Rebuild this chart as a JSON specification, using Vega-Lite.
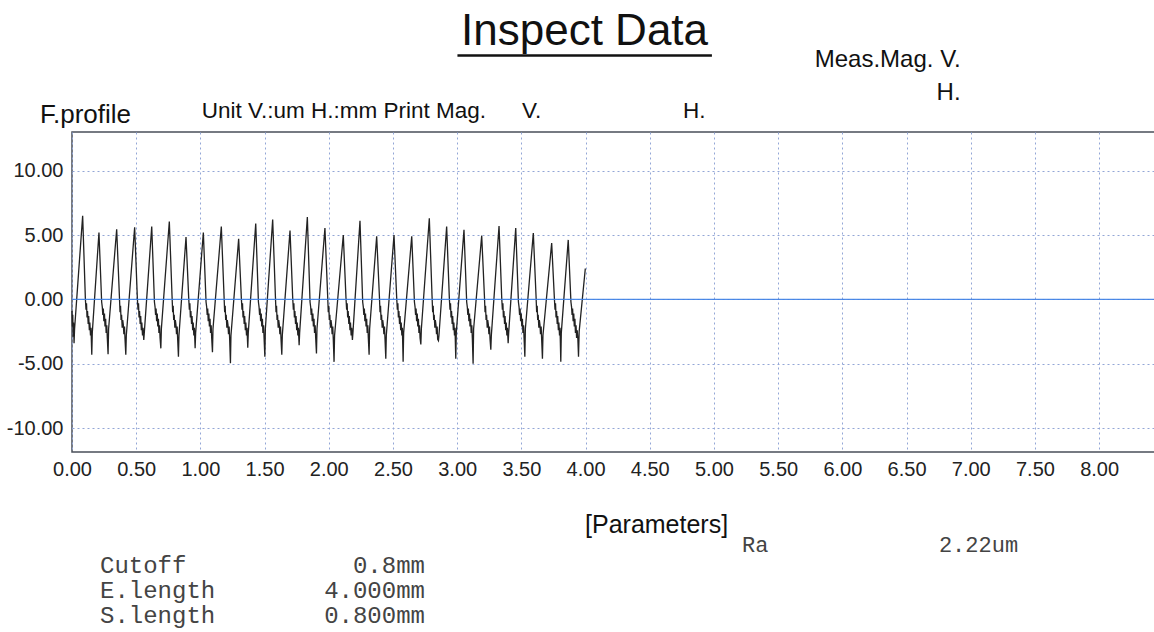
{
  "$schema": "https://vega.github.io/schema/vega-lite/v6.json",
  "width": 1083,
  "height": 320,
  "autosize": "none",
  "padding": {"left": 72, "top": 132, "right": 0, "bottom": 180},
  "background": "white",
  "config": {"view": {"stroke": "#4a4f5a", "strokeWidth": 1.5}},
  "datasets": {
    "one": [{}],
    "profile": [
      {"x":0.000,"y":-0.9},{"x":0.003,"y":-2.1},{"x":0.006,"y":-1.2},{"x":0.009,"y":-2.9},{"x":0.012,"y":-1.8},{"x":0.016,"y":-3.4},{"x":0.020,"y":-2.3},
      {"x":0.083,"y":6.5},{"x":0.104,"y":0.1},{"x":0.109,"y":-0.8},{"x":0.113,"y":-0.3},{"x":0.117,"y":-1.4},{"x":0.121,"y":-0.9},{"x":0.126,"y":-1.9},{"x":0.130,"y":-1.3},{"x":0.135,"y":-2.4},{"x":0.139,"y":-1.8},{"x":0.144,"y":-2.8},{"x":0.148,"y":-2.2},{"x":0.154,"y":-4.3},{"x":0.158,"y":-2.6},
      {"x":0.210,"y":5.2},{"x":0.231,"y":-0.2},{"x":0.236,"y":-0.6},{"x":0.240,"y":-1.2},{"x":0.244,"y":-0.7},{"x":0.248,"y":-1.7},{"x":0.253,"y":-1.1},{"x":0.257,"y":-2.1},{"x":0.262,"y":-1.5},{"x":0.266,"y":-2.6},{"x":0.271,"y":-2.0},{"x":0.275,"y":-3.0},{"x":0.281,"y":-4.25},{"x":0.285,"y":-2.3},
      {"x":0.348,"y":5.45},{"x":0.369,"y":0.3},{"x":0.374,"y":-1.0},{"x":0.378,"y":-0.5},{"x":0.382,"y":-1.6},{"x":0.386,"y":-1.2},{"x":0.391,"y":-2.2},{"x":0.395,"y":-1.6},{"x":0.400,"y":-2.0},{"x":0.404,"y":-2.7},{"x":0.409,"y":-2.1},{"x":0.413,"y":-3.1},{"x":0.419,"y":-4.3},{"x":0.423,"y":-2.8},
      {"x":0.488,"y":5.6},{"x":0.509,"y":0.1},{"x":0.514,"y":-0.8},{"x":0.518,"y":-0.3},{"x":0.522,"y":-1.4},{"x":0.526,"y":-0.9},{"x":0.531,"y":-1.9},{"x":0.535,"y":-1.3},{"x":0.540,"y":-2.4},{"x":0.544,"y":-1.8},{"x":0.549,"y":-2.8},{"x":0.553,"y":-2.2},{"x":0.559,"y":-3.15},{"x":0.563,"y":-2.6},
      {"x":0.621,"y":5.65},{"x":0.642,"y":-0.2},{"x":0.647,"y":-0.6},{"x":0.651,"y":-1.2},{"x":0.655,"y":-0.7},{"x":0.659,"y":-1.7},{"x":0.664,"y":-1.1},{"x":0.668,"y":-2.1},{"x":0.673,"y":-1.5},{"x":0.677,"y":-2.6},{"x":0.682,"y":-2.0},{"x":0.686,"y":-3.0},{"x":0.692,"y":-3.8},{"x":0.696,"y":-2.3},
      {"x":0.758,"y":6.05},{"x":0.779,"y":0.3},{"x":0.784,"y":-1.0},{"x":0.788,"y":-0.5},{"x":0.792,"y":-1.6},{"x":0.796,"y":-1.2},{"x":0.801,"y":-2.2},{"x":0.805,"y":-1.6},{"x":0.810,"y":-2.0},{"x":0.814,"y":-2.7},{"x":0.819,"y":-2.1},{"x":0.823,"y":-3.1},{"x":0.829,"y":-4.45},{"x":0.833,"y":-2.8},
      {"x":0.888,"y":4.85},{"x":0.909,"y":0.1},{"x":0.914,"y":-0.8},{"x":0.918,"y":-0.3},{"x":0.922,"y":-1.4},{"x":0.926,"y":-0.9},{"x":0.931,"y":-1.9},{"x":0.935,"y":-1.3},{"x":0.940,"y":-2.4},{"x":0.944,"y":-1.8},{"x":0.949,"y":-2.8},{"x":0.953,"y":-2.2},{"x":0.959,"y":-3.8},{"x":0.963,"y":-2.6},
      {"x":1.023,"y":5.2},{"x":1.044,"y":-0.2},{"x":1.049,"y":-0.6},{"x":1.053,"y":-1.2},{"x":1.057,"y":-0.7},{"x":1.061,"y":-1.7},{"x":1.066,"y":-1.1},{"x":1.070,"y":-2.1},{"x":1.075,"y":-1.5},{"x":1.079,"y":-2.6},{"x":1.084,"y":-2.0},{"x":1.088,"y":-3.0},{"x":1.094,"y":-4.1},{"x":1.098,"y":-2.3},
      {"x":1.163,"y":5.65},{"x":1.184,"y":0.3},{"x":1.189,"y":-1.0},{"x":1.193,"y":-0.5},{"x":1.197,"y":-1.6},{"x":1.201,"y":-1.2},{"x":1.206,"y":-2.2},{"x":1.210,"y":-1.6},{"x":1.215,"y":-2.0},{"x":1.219,"y":-2.7},{"x":1.224,"y":-2.1},{"x":1.228,"y":-3.1},{"x":1.234,"y":-4.95},{"x":1.238,"y":-2.8},
      {"x":1.298,"y":4.7},{"x":1.319,"y":0.1},{"x":1.324,"y":-0.8},{"x":1.328,"y":-0.3},{"x":1.332,"y":-1.4},{"x":1.336,"y":-0.9},{"x":1.341,"y":-1.9},{"x":1.345,"y":-1.3},{"x":1.350,"y":-2.4},{"x":1.354,"y":-1.8},{"x":1.359,"y":-2.8},{"x":1.363,"y":-2.2},{"x":1.369,"y":-3.75},{"x":1.373,"y":-2.6},
      {"x":1.431,"y":5.9},{"x":1.452,"y":-0.2},{"x":1.457,"y":-0.6},{"x":1.461,"y":-1.2},{"x":1.465,"y":-0.7},{"x":1.469,"y":-1.7},{"x":1.474,"y":-1.1},{"x":1.478,"y":-2.1},{"x":1.483,"y":-1.5},{"x":1.487,"y":-2.6},{"x":1.492,"y":-2.0},{"x":1.496,"y":-3.0},{"x":1.502,"y":-4.45},{"x":1.506,"y":-2.3},
      {"x":1.563,"y":6.2},{"x":1.584,"y":0.3},{"x":1.589,"y":-1.0},{"x":1.593,"y":-0.5},{"x":1.597,"y":-1.6},{"x":1.601,"y":-1.2},{"x":1.606,"y":-2.2},{"x":1.610,"y":-1.6},{"x":1.615,"y":-2.0},{"x":1.619,"y":-2.7},{"x":1.624,"y":-2.1},{"x":1.628,"y":-3.1},{"x":1.634,"y":-4.3},{"x":1.638,"y":-2.8},
      {"x":1.698,"y":5.35},{"x":1.719,"y":0.1},{"x":1.724,"y":-0.8},{"x":1.728,"y":-0.3},{"x":1.732,"y":-1.4},{"x":1.736,"y":-0.9},{"x":1.741,"y":-1.9},{"x":1.745,"y":-1.3},{"x":1.750,"y":-2.4},{"x":1.754,"y":-1.8},{"x":1.759,"y":-2.8},{"x":1.763,"y":-2.2},{"x":1.769,"y":-3.55},{"x":1.773,"y":-2.6},
      {"x":1.833,"y":6.4},{"x":1.854,"y":-0.2},{"x":1.859,"y":-0.6},{"x":1.863,"y":-1.2},{"x":1.867,"y":-0.7},{"x":1.871,"y":-1.7},{"x":1.876,"y":-1.1},{"x":1.880,"y":-2.1},{"x":1.885,"y":-1.5},{"x":1.889,"y":-2.6},{"x":1.894,"y":-2.0},{"x":1.898,"y":-3.0},{"x":1.904,"y":-4.2},{"x":1.908,"y":-2.3},
      {"x":1.970,"y":5.55},{"x":1.991,"y":0.3},{"x":1.996,"y":-1.0},{"x":2.000,"y":-0.5},{"x":2.004,"y":-1.6},{"x":2.008,"y":-1.2},{"x":2.013,"y":-2.2},{"x":2.017,"y":-1.6},{"x":2.022,"y":-2.0},{"x":2.026,"y":-2.7},{"x":2.031,"y":-2.1},{"x":2.035,"y":-3.1},{"x":2.041,"y":-4.85},{"x":2.045,"y":-2.8},
      {"x":2.113,"y":5.0},{"x":2.134,"y":0.1},{"x":2.139,"y":-0.8},{"x":2.143,"y":-0.3},{"x":2.147,"y":-1.4},{"x":2.151,"y":-0.9},{"x":2.156,"y":-1.9},{"x":2.160,"y":-1.3},{"x":2.165,"y":-2.4},{"x":2.169,"y":-1.8},{"x":2.174,"y":-2.8},{"x":2.178,"y":-2.2},{"x":2.184,"y":-3.15},{"x":2.188,"y":-2.6},
      {"x":2.243,"y":6.1},{"x":2.264,"y":-0.2},{"x":2.269,"y":-0.6},{"x":2.273,"y":-1.2},{"x":2.277,"y":-0.7},{"x":2.281,"y":-1.7},{"x":2.286,"y":-1.1},{"x":2.290,"y":-2.1},{"x":2.295,"y":-1.5},{"x":2.299,"y":-2.6},{"x":2.304,"y":-2.0},{"x":2.308,"y":-3.0},{"x":2.314,"y":-4.3},{"x":2.318,"y":-2.3},
      {"x":2.373,"y":4.9},{"x":2.394,"y":0.3},{"x":2.399,"y":-1.0},{"x":2.403,"y":-0.5},{"x":2.407,"y":-1.6},{"x":2.411,"y":-1.2},{"x":2.416,"y":-2.2},{"x":2.420,"y":-1.6},{"x":2.425,"y":-2.0},{"x":2.429,"y":-2.7},{"x":2.434,"y":-2.1},{"x":2.438,"y":-3.1},{"x":2.444,"y":-4.6},{"x":2.448,"y":-2.8},
      {"x":2.508,"y":5.0},{"x":2.529,"y":0.1},{"x":2.534,"y":-0.8},{"x":2.538,"y":-0.3},{"x":2.542,"y":-1.4},{"x":2.546,"y":-0.9},{"x":2.551,"y":-1.9},{"x":2.555,"y":-1.3},{"x":2.560,"y":-2.4},{"x":2.564,"y":-1.8},{"x":2.569,"y":-2.8},{"x":2.573,"y":-2.2},{"x":2.579,"y":-4.85},{"x":2.583,"y":-2.6},
      {"x":2.646,"y":4.9},{"x":2.667,"y":-0.2},{"x":2.672,"y":-0.6},{"x":2.676,"y":-1.2},{"x":2.680,"y":-0.7},{"x":2.684,"y":-1.7},{"x":2.689,"y":-1.1},{"x":2.693,"y":-2.1},{"x":2.698,"y":-1.5},{"x":2.702,"y":-2.6},{"x":2.707,"y":-2.0},{"x":2.711,"y":-3.0},{"x":2.717,"y":-3.5},{"x":2.721,"y":-2.3},
      {"x":2.783,"y":6.3},{"x":2.804,"y":0.3},{"x":2.809,"y":-1.0},{"x":2.813,"y":-0.5},{"x":2.817,"y":-1.6},{"x":2.821,"y":-1.2},{"x":2.826,"y":-2.2},{"x":2.830,"y":-1.6},{"x":2.835,"y":-2.0},{"x":2.839,"y":-2.7},{"x":2.844,"y":-2.1},{"x":2.848,"y":-3.1},{"x":2.854,"y":-3.2},{"x":2.858,"y":-2.8},
      {"x":2.918,"y":5.65},{"x":2.939,"y":0.1},{"x":2.944,"y":-0.8},{"x":2.948,"y":-0.3},{"x":2.952,"y":-1.4},{"x":2.956,"y":-0.9},{"x":2.961,"y":-1.9},{"x":2.965,"y":-1.3},{"x":2.970,"y":-2.4},{"x":2.974,"y":-1.8},{"x":2.979,"y":-2.8},{"x":2.983,"y":-2.2},{"x":2.989,"y":-4.6},{"x":2.993,"y":-2.6},
      {"x":3.053,"y":5.4},{"x":3.074,"y":-0.2},{"x":3.079,"y":-0.6},{"x":3.083,"y":-1.2},{"x":3.087,"y":-0.7},{"x":3.091,"y":-1.7},{"x":3.096,"y":-1.1},{"x":3.100,"y":-2.1},{"x":3.105,"y":-1.5},{"x":3.109,"y":-2.6},{"x":3.114,"y":-2.0},{"x":3.118,"y":-3.0},{"x":3.124,"y":-5.0},{"x":3.128,"y":-2.3},
      {"x":3.191,"y":4.95},{"x":3.212,"y":0.3},{"x":3.217,"y":-1.0},{"x":3.221,"y":-0.5},{"x":3.225,"y":-1.6},{"x":3.229,"y":-1.2},{"x":3.234,"y":-2.2},{"x":3.238,"y":-1.6},{"x":3.243,"y":-2.0},{"x":3.247,"y":-2.7},{"x":3.252,"y":-2.1},{"x":3.256,"y":-3.1},{"x":3.262,"y":-3.9},{"x":3.266,"y":-2.8},
      {"x":3.326,"y":5.7},{"x":3.347,"y":0.1},{"x":3.352,"y":-0.8},{"x":3.356,"y":-0.3},{"x":3.360,"y":-1.4},{"x":3.364,"y":-0.9},{"x":3.369,"y":-1.9},{"x":3.373,"y":-1.3},{"x":3.378,"y":-2.4},{"x":3.382,"y":-1.8},{"x":3.387,"y":-2.8},{"x":3.391,"y":-2.2},{"x":3.397,"y":-3.4},{"x":3.401,"y":-2.6},
      {"x":3.456,"y":5.55},{"x":3.477,"y":-0.2},{"x":3.482,"y":-0.6},{"x":3.486,"y":-1.2},{"x":3.490,"y":-0.7},{"x":3.494,"y":-1.7},{"x":3.499,"y":-1.1},{"x":3.503,"y":-2.1},{"x":3.508,"y":-1.5},{"x":3.512,"y":-2.6},{"x":3.517,"y":-2.0},{"x":3.521,"y":-3.0},{"x":3.527,"y":-4.45},{"x":3.531,"y":-2.3},
      {"x":3.593,"y":5.15},{"x":3.614,"y":0.3},{"x":3.619,"y":-1.0},{"x":3.623,"y":-0.5},{"x":3.627,"y":-1.6},{"x":3.631,"y":-1.2},{"x":3.636,"y":-2.2},{"x":3.640,"y":-1.6},{"x":3.645,"y":-2.0},{"x":3.649,"y":-2.7},{"x":3.654,"y":-2.1},{"x":3.658,"y":-3.1},{"x":3.664,"y":-4.6},{"x":3.668,"y":-2.8},
      {"x":3.736,"y":4.37},{"x":3.757,"y":0.1},{"x":3.762,"y":-0.8},{"x":3.766,"y":-0.3},{"x":3.770,"y":-1.4},{"x":3.774,"y":-0.9},{"x":3.779,"y":-1.9},{"x":3.783,"y":-1.3},{"x":3.788,"y":-2.4},{"x":3.792,"y":-1.8},{"x":3.797,"y":-2.8},{"x":3.801,"y":-2.2},{"x":3.807,"y":-4.85},{"x":3.811,"y":-2.6},
      {"x":3.865,"y":4.62},{"x":3.886,"y":-0.2},{"x":3.891,"y":-0.6},{"x":3.895,"y":-1.2},{"x":3.899,"y":-0.7},{"x":3.903,"y":-1.7},{"x":3.908,"y":-1.1},{"x":3.912,"y":-2.1},{"x":3.917,"y":-1.5},{"x":3.921,"y":-2.6},{"x":3.926,"y":-2.0},{"x":3.930,"y":-3.0},{"x":3.935,"y":-2.4},{"x":3.940,"y":-3.1},{"x":3.945,"y":-4.45},{"x":3.950,"y":-2.5},
      {"x":3.998,"y":2.4}
    ]
  },
  "layer": [
    {
      "data": {"name": "profile"},
      "mark": {"type": "line", "color": "#222222", "strokeWidth": 1.3},
      "encoding": {
        "x": {
          "field": "x", "type": "quantitative",
          "scale": {"domain": [0, 8.435], "nice": false, "zero": false},
          "axis": {
            "values": [0,0.5,1,1.5,2,2.5,3,3.5,4,4.5,5,5.5,6,6.5,7,7.5,8],
            "labelExpr": "replace(format(datum.value, '.2f'), '\u2212', '-')",
            "title": null, "grid": true, "gridDash": [2,3], "gridColor": "#93a6d6", "gridWidth": 1,
            "domain": false, "ticks": false, "labelFontSize": 20, "labelFont": "Liberation Sans", "labelColor": "#222222",
            "labelPadding": 7, "labelFlush": false, "labelOverlap": false
          }
        },
        "y": {
          "field": "y", "type": "quantitative",
          "scale": {"domain": [-11.85, 13.0], "nice": false, "zero": false},
          "axis": {
            "values": [-10,-5,0,5,10],
            "labelExpr": "replace(format(datum.value, '.2f'), '\u2212', '-')",
            "title": null, "grid": true, "gridDash": [2,3], "gridColor": "#93a6d6", "gridWidth": 1,
            "domain": false, "ticks": false, "labelFontSize": 20, "labelFont": "Liberation Sans", "labelColor": "#222222",
            "labelPadding": 9, "labelOverlap": false, "labelFlush": false
          }
        }
      }
    },
    {
      "data": {"name": "one"},
      "mark": {"type": "rule", "color": "#3d7fe6", "strokeWidth": 1.4, "opacity": 0.9},
      "encoding": {"y": {"datum": 0, "type": "quantitative"}}
    },
    {
      "data": {"name": "one"},
      "mark": {"type": "text", "text": "Inspect Data", "font": "Liberation Sans", "fontSize": 44, "align": "center", "baseline": "alphabetic", "color": "#111111"},
      "encoding": {"x": {"datum": 3.992, "type": "quantitative"}, "y": {"datum": 19.74, "type": "quantitative"}}
    },
    {
      "data": {"name": "one"},
      "mark": {"type": "rule", "color": "#111111", "strokeWidth": 2.5},
      "encoding": {"x": {"datum": 3.002, "type": "quantitative"}, "x2": {"datum": 4.984}, "y": {"datum": 18.95, "type": "quantitative"}}
    },
    {
      "data": {"name": "one"},
      "mark": {"type": "text", "text": ["Meas.Mag. V.", "H."], "lineHeight": 33.3, "font": "Liberation Sans", "fontSize": 24, "align": "right", "baseline": "alphabetic", "color": "#111111"},
      "encoding": {"x": {"datum": 6.921, "type": "quantitative"}, "y": {"datum": 18.05, "type": "quantitative"}}
    },
    {
      "data": {"name": "one"},
      "mark": {"type": "text", "text": "F.profile", "font": "Liberation Sans", "fontSize": 26, "align": "left", "baseline": "alphabetic", "color": "#111111"},
      "encoding": {"x": {"datum": -0.249, "type": "quantitative"}, "y": {"datum": 13.68, "type": "quantitative"}}
    },
    {
      "data": {"name": "one"},
      "mark": {"type": "text", "text": "Unit V.:um H.:mm Print Mag.", "font": "Liberation Sans", "fontSize": 22.5, "align": "left", "baseline": "alphabetic", "color": "#111111"},
      "encoding": {"x": {"datum": 1.010, "type": "quantitative"}, "y": {"datum": 14.06, "type": "quantitative"}}
    },
    {
      "data": {"name": "one"},
      "mark": {"type": "text", "text": "V.", "font": "Liberation Sans", "fontSize": 22.5, "align": "left", "baseline": "alphabetic", "color": "#111111"},
      "encoding": {"x": {"datum": 3.505, "type": "quantitative"}, "y": {"datum": 14.06, "type": "quantitative"}}
    },
    {
      "data": {"name": "one"},
      "mark": {"type": "text", "text": "H.", "font": "Liberation Sans", "fontSize": 22.5, "align": "left", "baseline": "alphabetic", "color": "#111111"},
      "encoding": {"x": {"datum": 4.759, "type": "quantitative"}, "y": {"datum": 14.06, "type": "quantitative"}}
    },
    {
      "data": {"name": "one"},
      "mark": {"type": "text", "text": "[Parameters]", "font": "Liberation Sans", "fontSize": 25, "align": "center", "baseline": "alphabetic", "color": "#111111"},
      "encoding": {"x": {"datum": 4.553, "type": "quantitative"}, "y": {"datum": -18.14, "type": "quantitative"}}
    },
    {
      "data": {"name": "one"},
      "mark": {"type": "text", "text": ["Cutoff", "E.length", "S.length"], "lineHeight": 25.3, "font": "Liberation Mono", "fontSize": 24, "align": "left", "baseline": "alphabetic", "color": "#444444"},
      "encoding": {"x": {"datum": 0.218, "type": "quantitative"}, "y": {"datum": -21.22, "type": "quantitative"}}
    },
    {
      "data": {"name": "one"},
      "mark": {"type": "text", "text": ["0.8mm", "4.000mm", "0.800mm"], "lineHeight": 25.3, "font": "Liberation Mono", "fontSize": 24, "align": "right", "baseline": "alphabetic", "color": "#444444"},
      "encoding": {"x": {"datum": 2.749, "type": "quantitative"}, "y": {"datum": -21.22, "type": "quantitative"}}
    },
    {
      "data": {"name": "one"},
      "mark": {"type": "text", "text": "Ra", "font": "Liberation Mono", "fontSize": 22, "align": "left", "baseline": "alphabetic", "color": "#444444"},
      "encoding": {"x": {"datum": 5.218, "type": "quantitative"}, "y": {"datum": -19.62, "type": "quantitative"}}
    },
    {
      "data": {"name": "one"},
      "mark": {"type": "text", "text": "2.22um", "font": "Liberation Mono", "fontSize": 22, "align": "left", "baseline": "alphabetic", "color": "#444444"},
      "encoding": {"x": {"datum": 6.752, "type": "quantitative"}, "y": {"datum": -19.62, "type": "quantitative"}}
    }
  ]
}
